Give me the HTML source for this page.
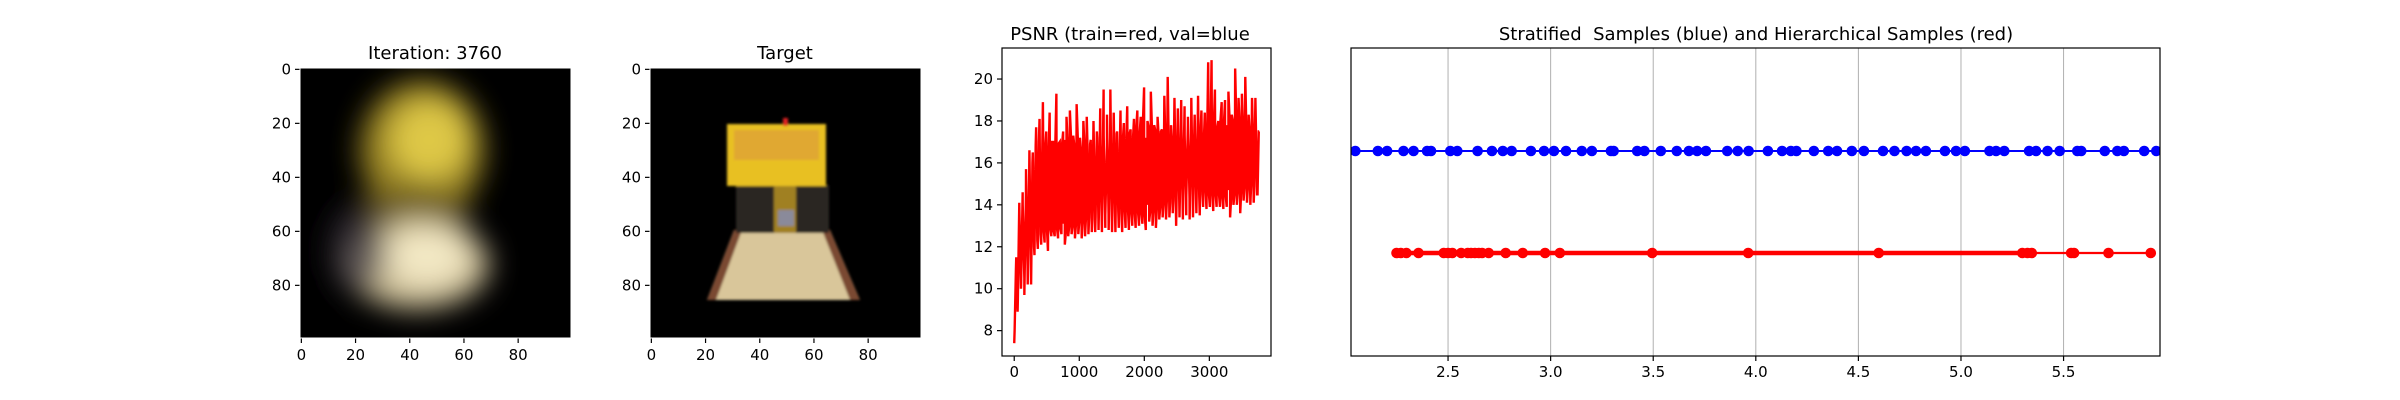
<!DOCTYPE html>
<html><head><meta charset="utf-8"><style>
html,body{margin:0;padding:0;background:#fff;width:2400px;height:400px;overflow:hidden}
svg{display:block;font-family:"DejaVu Sans","Liberation Sans",sans-serif}
</style></head><body>
<svg id="fig" width="2400" height="400" viewBox="0 0 2400 400" xmlns="http://www.w3.org/2000/svg">
<defs>
<filter id="blur1" x="-50%" y="-50%" width="200%" height="200%"><feGaussianBlur stdDeviation="14"/></filter>
<filter id="blur2"><feGaussianBlur stdDeviation="1.2"/></filter>
<clipPath id="c1"><rect x="300" y="68" width="271" height="270"/></clipPath>
<clipPath id="c3"><rect x="1002" y="48" width="269" height="308"/></clipPath>
<clipPath id="c4"><rect x="1351" y="48" width="809" height="308"/></clipPath>
</defs>
<g>
<text x="435" y="59" font-size="18" text-anchor="middle">Iteration: 3760</text>
<rect x="300" y="68" width="271" height="270" fill="#000"/>
<g clip-path="url(#c1)" filter="url(#blur1)">
<ellipse cx="422" cy="150" rx="62" ry="70" fill="#b39a2a" opacity="0.85"/>
<ellipse cx="429" cy="140" rx="40" ry="40" fill="#e6cf4a" opacity="0.9"/>
<ellipse cx="415" cy="215" rx="55" ry="35" fill="#6d5d22" opacity="0.8"/>
<ellipse cx="417" cy="264" rx="72" ry="45" fill="#d8c9a0" opacity="0.95"/>
<ellipse cx="427" cy="257" rx="40" ry="28" fill="#f3e8c4"/>
<ellipse cx="357" cy="250" rx="28" ry="45" fill="#3a3440" opacity="0.7"/>
</g>
<g id="ax1"></g>
</g>
<g>
<text x="785" y="59" font-size="18" text-anchor="middle">Target</text>
<rect x="650" y="68" width="271" height="270" fill="#000"/>
<g filter="url(#blur2)">
<polygon points="734,230 830,230 860,300 707,300" fill="#d9c69a"/>
<polygon points="734,230 742,230 716,300 707,300" fill="#7a4a30"/>
<polygon points="822,230 830,230 860,300 850,300" fill="#7a4a30"/>
<rect x="736" y="185" width="93" height="48" fill="#2a2620"/>
<rect x="774" y="185" width="22" height="48" fill="#a08020"/>
<rect x="778" y="210" width="16" height="16" fill="#8a8a9a"/>
<rect x="727" y="124" width="99" height="62" fill="#e8c020"/>
<rect x="734" y="130" width="85" height="30" fill="#e0a830"/>
<rect x="783" y="118" width="5" height="8" fill="#e02020"/>
</g>
<g id="ax2"></g>
</g>
<g>
<text x="1130" y="40" font-size="18" text-anchor="middle">PSNR (train=red, val=blue</text>
<g id="ax3"></g>
</g>
<g>
<text x="1756" y="40" font-size="18" text-anchor="middle" xml:space="preserve">Stratified  Samples (blue) and Hierarchical Samples (red)</text>
<g id="ax4"></g>
</g>
</svg>
<script>
const NS='http://www.w3.org/2000/svg';
const imgTicks=[0,20,40,60,80];
const psnrXTicks=[0,1000,2000,3000];
const psnrYTicks=[8,10,12,14,16,18,20];
const psnrLastIter=3760;
const psnrTrain=[7.4,10.9,8.9,14.1,10.0,14.6,9.7,15.7,10.2,16.6,10.2,16.5,
11.6,17.7,11.9,18.1,12.1,18.9,12.2,17.5,11.8,18.4,12.5,17.0,12.5,19.3,12.4,17.0,12.6,17.5,12.1,18.2,12.5,18.5,12.6,17.3,12.4,18.8,12.6,17.2,12.4,18.0,12.5,18.2,12.6,16.9,12.7,18.0,12.7,17.5,12.8,18.6,12.7,19.5,12.9,18.3,12.8,19.5,12.7,18.4,12.7,17.5,12.9,18.5,12.7,17.9,12.9,18.7,12.8,17.6,13.0,18.1,12.9,18.5,13.0,18.2,13.1,19.6,12.8,18.0,13.2,19.4,13.0,17.8,12.9,18.2,13.3,17.5,13.4,19.2,13.3,20.1,13.4,17.8,13.6,19.1,13.0,18.6,13.4,19.0,13.3,18.7,13.5,18.2,13.3,19.1,13.4,18.3,13.6,19.2,13.5,18.5,13.9,18.4,13.8,20.8,13.9,20.9,13.7,19.5,13.9,18.0,13.9,18.9,13.8,19.0,13.9,19.4,13.4,18.3,14.0,20.5,14.0,19.1,13.6,19.3,14.2,20.1,14.1,18.3,14.0,19.1,14.1,19.1,14.5,17.5];
const psnrBand=[8.0,11.5,9.5,13.5,10.2,14.0,10.5,14.5,11.0,15.5,11.3,16.0,
12.0,16.8,12.3,17.0,12.6,16.2,12.7,16.8,12.8,16.5,12.9,17.0,12.8,16.4,13.0,16.9,13.0,16.6,13.1,17.1,13.0,16.5,13.2,16.9,13.1,16.7,13.2,17.2,13.3,16.6,13.2,17.0,13.3,16.8,13.4,17.1,13.3,16.7,13.4,17.2,13.5,16.9,13.4,17.3,13.5,16.8,13.6,17.2,13.5,17.0,13.6,17.4,13.7,16.9,13.6,17.3,13.7,17.1,13.8,17.4,13.7,17.0,13.8,17.5,13.9,17.1,13.8,17.4,13.9,17.2,14.0,17.6,13.9,17.1,14.0,17.5,14.1,17.2,14.0,17.6,14.1,17.3,14.2,17.7,14.1,17.2,14.2,17.6,14.3,17.4,14.2,17.7,14.3,17.3,14.4,17.8,14.3,17.4,14.4,17.7,14.5,17.5,14.4,17.8,14.5,17.4,14.6,17.9,14.5,17.5,14.6,17.8,14.6,17.6,14.7,17.9,14.6,17.5,14.7,17.8,14.7,17.6,14.8,17.9,14.7,17.6,14.8,17.8,14.8,17.7,14.9,17.9,14.8,17.6,14.9,17.8,14.9,17.7,14.5,17.5];
const sampXTicks=[2.5,3.0,3.5,4.0,4.5,5.0,5.5];
const stratified=[2.0,2.048,2.158,2.203,2.283,2.332,2.398,2.417,2.511,2.545,2.644,2.714,2.767,2.810,2.904,2.968,3.016,3.075,3.152,3.201,3.294,3.307,3.422,3.457,3.537,3.615,3.674,3.714,3.757,3.861,3.912,3.965,4.059,4.128,4.171,4.198,4.283,4.353,4.396,4.468,4.527,4.620,4.676,4.735,4.781,4.829,4.922,4.976,5.019,5.139,5.171,5.211,5.332,5.366,5.422,5.481,5.567,5.586,5.701,5.762,5.794,5.893,5.952,6.0];
const hierarchical=[2.249,2.270,2.297,2.356,2.479,2.5,2.521,2.564,2.596,2.612,2.631,2.650,2.666,2.698,2.781,2.864,2.973,3.045,3.495,3.963,4.599,5.299,5.324,5.345,5.537,5.551,5.719,5.925];

function el(tag,attrs,parent,txt){const e=document.createElementNS(NS,tag);for(const k in attrs)e.setAttribute(k,attrs[k]);if(txt!==undefined)e.textContent=txt;parent.appendChild(e);return e;}
function lin(d0,d1,r0,r1){return v=>r0+(v-d0)/(d1-d0)*(r1-r0);}

function imageAxes(g,L,T,W,H){
  const sx=lin(-0.5,99.5,L,L+W), sy=lin(-0.5,99.5,T,T+H);
  for(const t of imgTicks){
    const x=sx(t),y=sy(t);
    const a=el('line',{x1:x,y1:T+H,x2:x,y2:T+H+5,stroke:'#000','stroke-width':1.2},g);
    
    const tl=el('text',{x:x,y:T+H+22,'font-size':15,'text-anchor':'middle'},g,String(t));
    
    const b=el('line',{x1:L-5,y1:y,x2:L,y2:y,stroke:'#000','stroke-width':1.2},g);
    
    const yl=el('text',{x:L-9,y:y+5,'font-size':15,'text-anchor':'end'},g,String(t));
    
  }
  const f=el('rect',{x:L,y:T,width:W,height:H,fill:'none',stroke:'#fff','stroke-width':1},g);
  
}
imageAxes(document.getElementById('ax1'),300,68,271,270);
imageAxes(document.getElementById('ax2'),650,68,271,270);

(function(){
  const g=document.getElementById('ax3');
  const L=1002,R=1271,T=48,B=356;
  const sx=lin(-188,3948,L,R), sy=lin(6.79,21.48,B,T);
  const pts=[];
  psnrTrain.forEach((v,i)=>pts.push([i*psnrLastIter/(psnrTrain.length-1),v]));
  psnrBand.forEach((v,i)=>pts.push([i*psnrLastIter/(psnrBand.length-1)+6,v]));
  pts.sort((a,b)=>a[0]-b[0]);
  let d='';
  pts.forEach((p,i)=>{d+=(i?'L':'M')+sx(p[0]).toFixed(2)+','+sy(p[1]).toFixed(2);});
  const wrap=el('g',{'clip-path':'url(#c3)'},g);
  const p=el('path',{d:d,fill:'none',stroke:'#ff0000','stroke-width':2.4,'stroke-linejoin':'miter'},wrap);
  
  for(const t of psnrXTicks){
    const x=sx(t);
    const a=el('line',{x1:x,y1:B,x2:x,y2:B+5,stroke:'#000','stroke-width':1.2},g);
    
    const tl=el('text',{x:x,y:B+21,'font-size':15,'text-anchor':'middle'},g,String(t));
    
  }
  for(const t of psnrYTicks){
    const y=sy(t);
    const a=el('line',{x1:L-5,y1:y,x2:L,y2:y,stroke:'#000','stroke-width':1.2},g);
    
    const tl=el('text',{x:L-9,y:y+5,'font-size':15,'text-anchor':'end'},g,String(t));
    
  }
  const f=el('rect',{x:L,y:T,width:R-L,height:B-T,fill:'none',stroke:'#000','stroke-width':1.2},g);
  
})();

(function(){
  const g=document.getElementById('ax4');
  const L=1351,R=2160,T=48,B=356;
  const sx=lin(2.027,5.97,L,R);
  const yBlue=151,yRed=253;
  for(const t of sampXTicks){
    const x=sx(t);
    const gl=el('line',{x1:x,y1:T,x2:x,y2:B,stroke:'#b0b0b0','stroke-width':1},g);
    
    const a=el('line',{x1:x,y1:B,x2:x,y2:B+5,stroke:'#000','stroke-width':1.2},g);
    
    const tl=el('text',{x:x,y:B+21,'font-size':15,'text-anchor':'middle'},g,t.toFixed(1));
    
  }
  const wrap=el('g',{'clip-path':'url(#c4)'},g);
  function series(vals,y,color,lw,name){
    const s=vals.slice().sort((a,b)=>a-b);
    const ln=el('line',{x1:sx(s[0]),y1:y,x2:sx(s[s.length-1]),y2:y,stroke:color,'stroke-width':lw},wrap);
    
    for(const v of vals){
      const c=el('circle',{cx:sx(v),cy:y,r:5.3,fill:color},wrap);
      
    }
  }
  series(stratified,yBlue,'#0000ff',2,'stratified-sample');
  series(hierarchical,yRed,'#ff0000',2.2,'hierarchical-sample');
  const thick=el('line',{x1:sx(2.3),y1:yRed,x2:sx(5.3),y2:yRed,stroke:'#ff0000','stroke-width':4.5},wrap);
  
  const f=el('rect',{x:L,y:T,width:R-L,height:B-T,fill:'none',stroke:'#000','stroke-width':1.2},g);
  
})();
</script>
</body></html>
